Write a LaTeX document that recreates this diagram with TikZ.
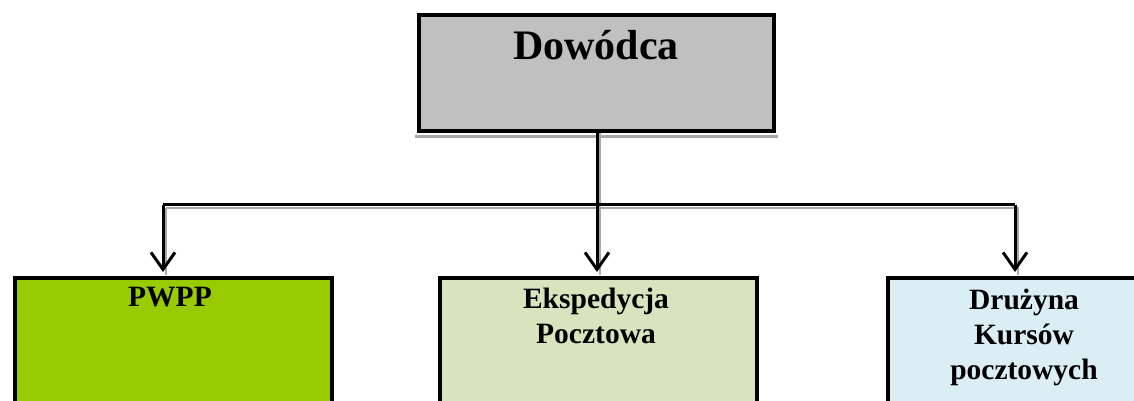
\documentclass[tikz,border=0pt]{standalone}
\usepackage{fontspec}
\setmainfont{Liberation Serif}
\usetikzlibrary{arrows.meta}
\definecolor{boxgray}{HTML}{C0C0C0}
\definecolor{boxgreen}{HTML}{99CC00}
\definecolor{boxpale}{HTML}{D7E4BD}
\definecolor{boxblue}{HTML}{DBEEF4}
\definecolor{shadowgray}{HTML}{A8A8A8}
\tikzset{
  orgbox/.style={draw=black, line width=4pt, rectangle, inner sep=0pt},
  conn/.style={draw=black, line width=3pt},
  connshadow/.style={draw=shadowgray, line width=2.5pt},
  tip/.style={-{Straight Barb[length=17pt,width=24pt,line width=3pt]}},
  bigtext/.style={font=\fontsize{42}{46}\selectfont\bfseries, anchor=base, inner sep=0pt},
  smalltext/.style={font=\fontsize{29.5}{35}\selectfont\bfseries, inner sep=0pt, align=center}
}
\begin{document}
\begin{tikzpicture}[x=1pt,y=1pt]
\useasboundingbox (0,0) rectangle (1134,401);
\clip (0,0) rectangle (1134,401);
% top box
\node[orgbox, fill=boxgray, minimum width=355pt, minimum height=116pt] (top) at (596.5,328) {};
\draw[shadowgray, line width=3pt] ([xshift=-2pt,yshift=-4pt]top.south west) -- ([xshift=2pt,yshift=-4pt]top.south east);
\node[bigtext] (toplabel) at (596,341) {Dowódca};
% bottom boxes
\node[orgbox, fill=boxgreen, anchor=north west, minimum width=317pt, minimum height=160pt] (pwpp) at (13,125) {};
\node[orgbox, fill=boxpale, anchor=north west, minimum width=317pt, minimum height=160pt] (eksp) at (438,125) {};
\node[orgbox, fill=boxblue, anchor=north west, minimum width=280pt, minimum height=160pt] (druz) at (886,125) {};
\node[smalltext, anchor=base] (pwpplabel) at (170,94) {PWPP};
\node[smalltext, anchor=north] (eksplabel) at (596,113) {Ekspedycja\\Pocztowa};
\node[smalltext, anchor=north] (druzlabel) at (1024,112) {Drużyna\\Kursów\\pocztowych};
% connectors
\coordinate (jl) at (163,196);
\coordinate (jm) at (597,196);
\coordinate (jr) at (1015,196);
\coordinate (tl) at (163,129);
\coordinate (tm) at (597,129);
\coordinate (tr) at (1015,129);
% shadows
\draw[connshadow] ([shift={(3,-3)}]jl) -- ([shift={(3,-3)}]jr) -- ([shift={(3,-3)}]tr);
\draw[connshadow] ([xshift=3pt]top.south -| jm) -- ([shift={(3,-3)}]tm);
\draw[connshadow] ([shift={(3,-3)}]jl) -- ([shift={(3,-3)}]tl);
% lines
\draw[conn] (jl) -- (jr);
\draw[conn, tip] (top.south -| jm) -- (tm);
\draw[conn, tip] (jl) -- (tl);
\draw[conn, tip] (jr) -- (tr);
\end{tikzpicture}
\end{document}
